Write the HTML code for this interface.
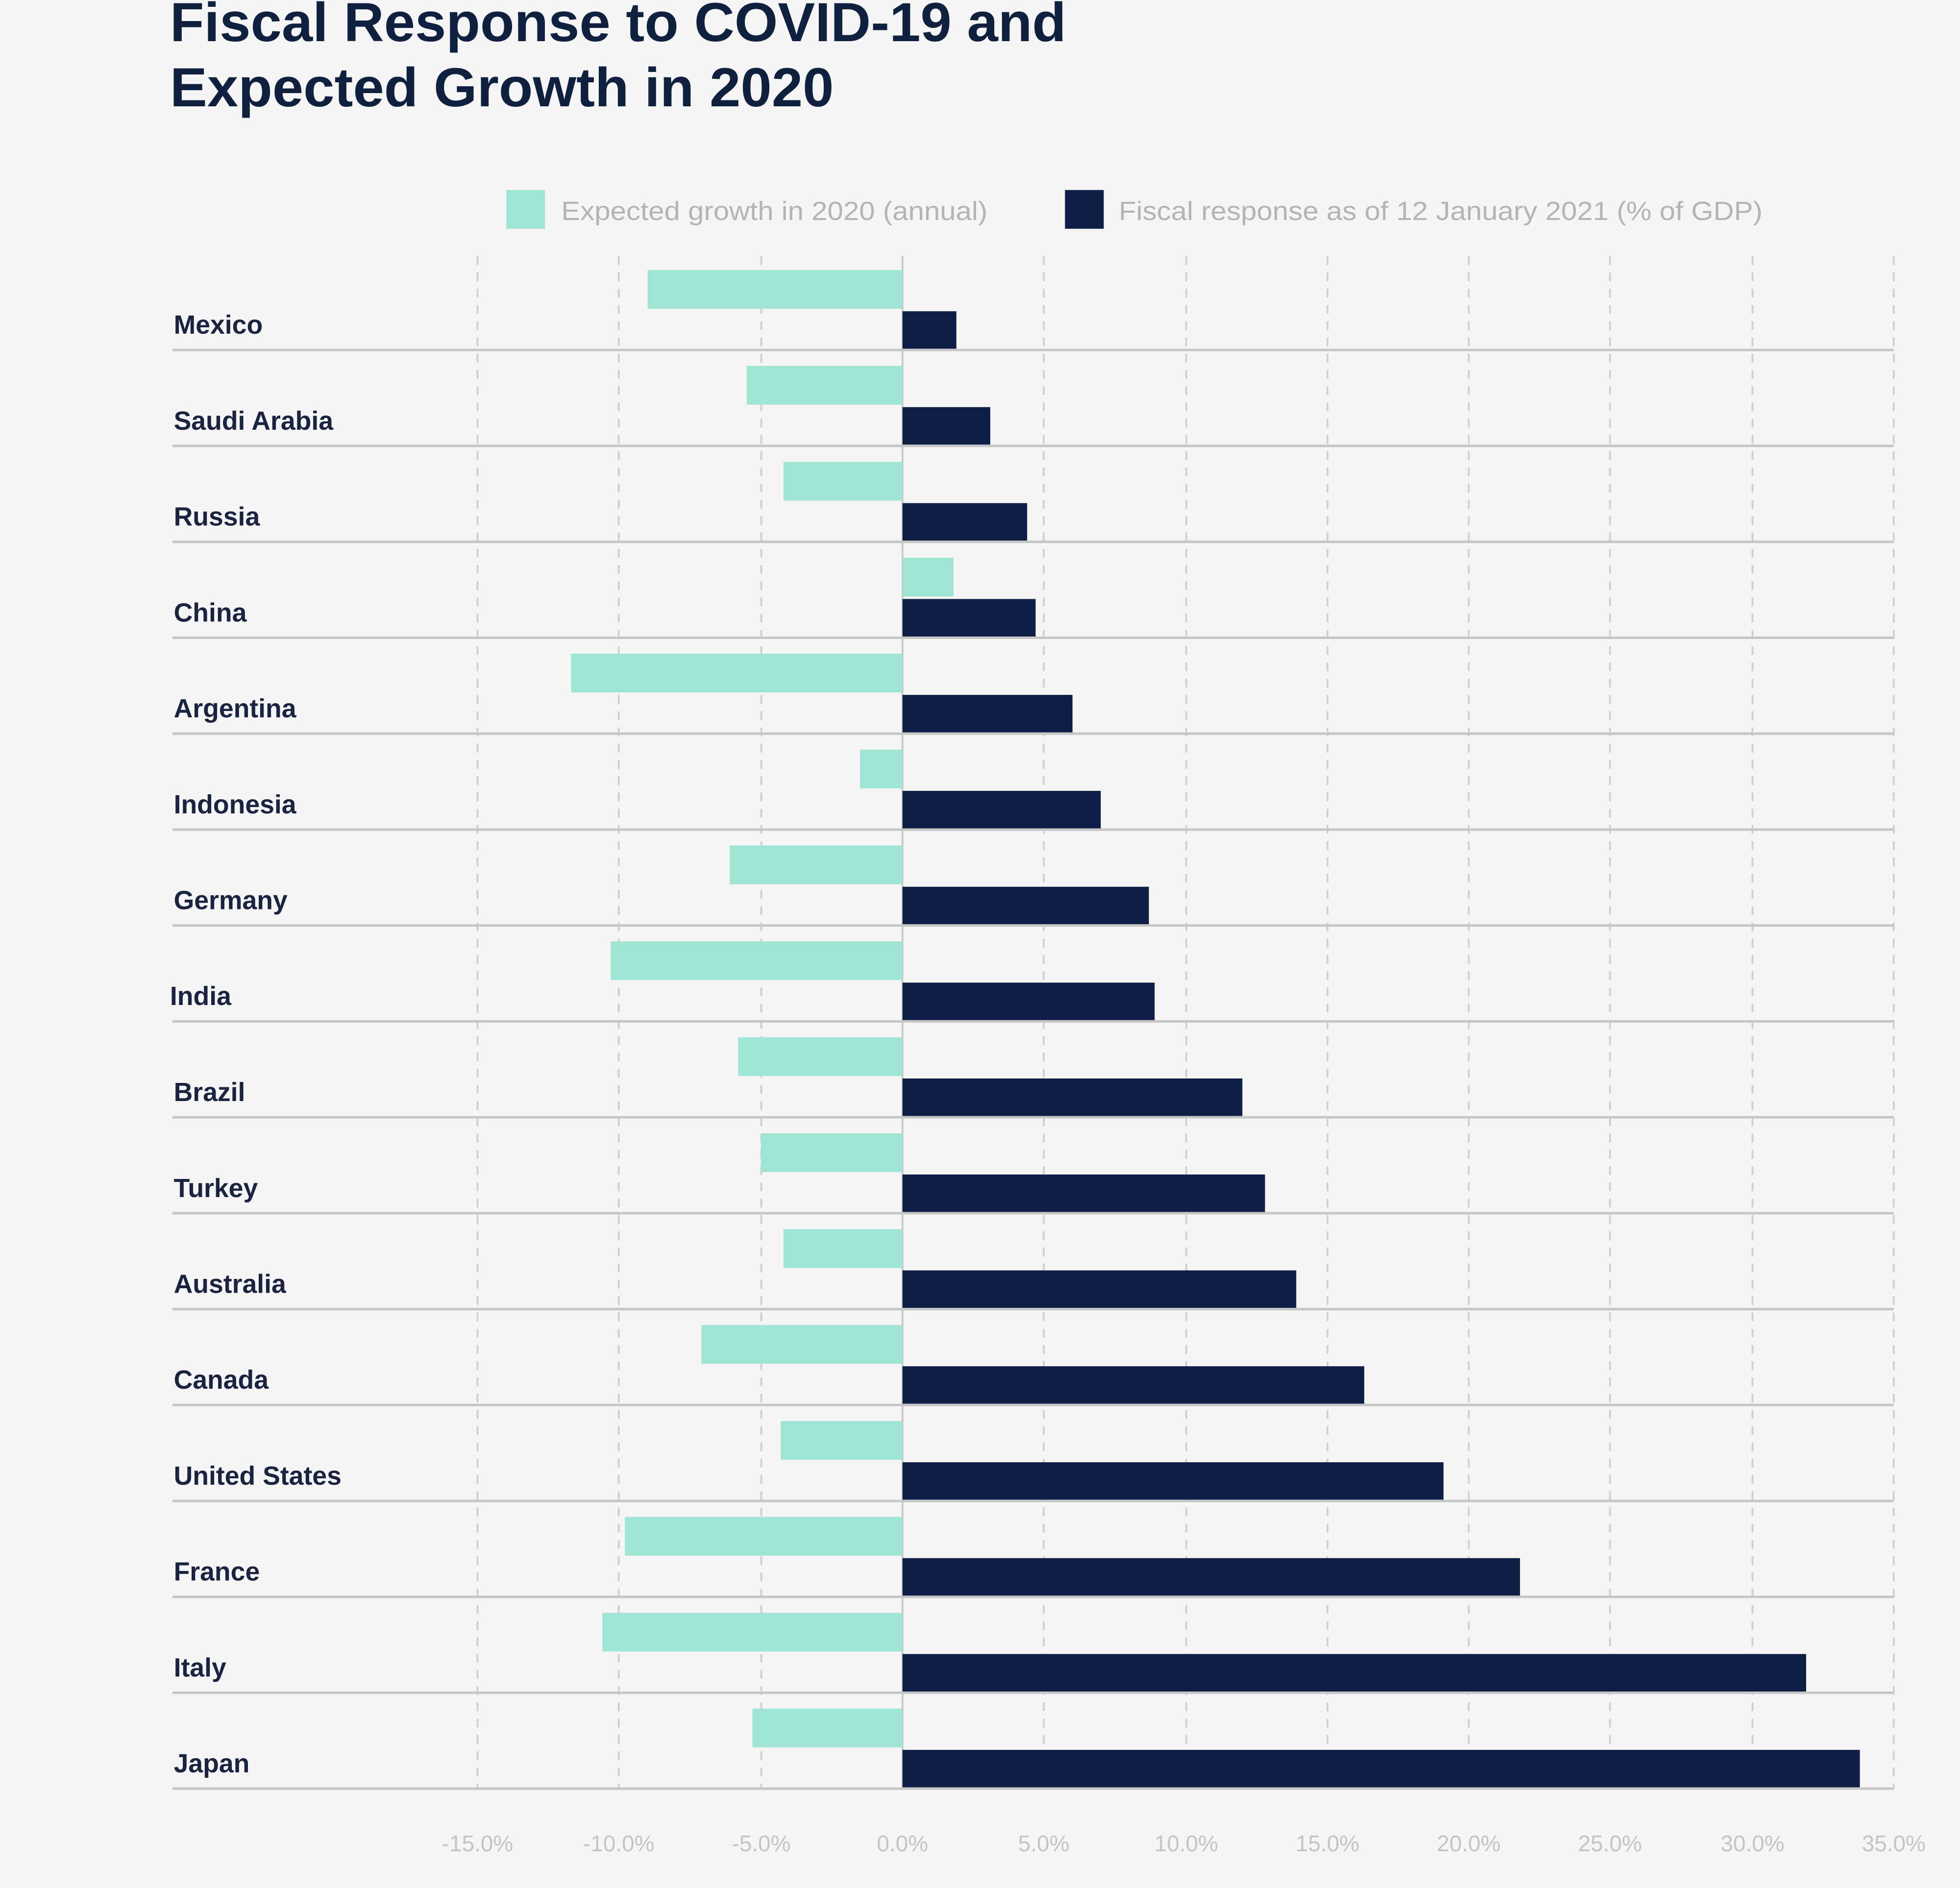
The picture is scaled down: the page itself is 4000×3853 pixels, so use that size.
<!DOCTYPE html>
<html><head><meta charset="utf-8"><style>
html,body{margin:0;padding:0;background:#f5f5f5;}
svg{display:block;}
</style></head><body>
<svg width="4000" height="3853" viewBox="0 0 1568 1510.4" preserveAspectRatio="none" xmlns="http://www.w3.org/2000/svg" font-family="Liberation Sans, sans-serif">
<rect width="1568" height="1511" fill="#f5f5f5"/>
<text x="136" y="33" font-size="44" fill="#10203f" font-weight="bold" textLength="717" lengthAdjust="spacingAndGlyphs">Fiscal Response to COVID-19 and</text>
<text x="136" y="85" font-size="44" fill="#10203f" font-weight="bold" textLength="531" lengthAdjust="spacingAndGlyphs">Expected Growth in 2020</text>
<rect x="405" y="152" width="31" height="31" fill="#a0e4d4"/>
<text x="449" y="176" font-size="21" fill="#b4b4b4" textLength="341" lengthAdjust="spacingAndGlyphs">Expected growth in 2020 (annual)</text>
<rect x="852" y="152" width="31" height="31" fill="#0d1f45"/>
<text x="895" y="176" font-size="21" fill="#b4b4b4" textLength="515" lengthAdjust="spacingAndGlyphs">Fiscal response as of 12 January 2021 (% of GDP)</text>
<g stroke="#cfcfcf" stroke-width="1.5" stroke-dasharray="7,6">
<line x1="382" y1="205" x2="382" y2="1431"/><line x1="495" y1="205" x2="495" y2="1431"/><line x1="609" y1="205" x2="609" y2="1431"/><line x1="835" y1="205" x2="835" y2="1431"/><line x1="949" y1="205" x2="949" y2="1431"/><line x1="1062" y1="205" x2="1062" y2="1431"/><line x1="1175" y1="205" x2="1175" y2="1431"/><line x1="1288" y1="205" x2="1288" y2="1431"/><line x1="1402" y1="205" x2="1402" y2="1431"/><line x1="1515" y1="205" x2="1515" y2="1431"/>
</g>
<line x1="722" y1="205" x2="722" y2="1431" stroke="#c8c8c8" stroke-width="1.5"/>
<g fill="#a0e4d4">
<rect x="518.1" y="216" width="203.9" height="31"/>
<rect x="597.4" y="292.7" width="124.6" height="31"/>
<rect x="626.8" y="369.5" width="95.2" height="31"/>
<rect x="722" y="446.2" width="40.8" height="31"/>
<rect x="456.9" y="522.9" width="265.1" height="31"/>
<rect x="688" y="599.7" width="34" height="31"/>
<rect x="583.8" y="676.4" width="138.2" height="31"/>
<rect x="488.6" y="753.1" width="233.4" height="31"/>
<rect x="590.6" y="829.8" width="131.4" height="31"/>
<rect x="608.7" y="906.6" width="113.3" height="31"/>
<rect x="626.8" y="983.3" width="95.2" height="31"/>
<rect x="561.1" y="1060" width="160.9" height="31"/>
<rect x="624.6" y="1136.8" width="97.4" height="31"/>
<rect x="499.9" y="1213.5" width="222.1" height="31"/>
<rect x="481.8" y="1290.2" width="240.2" height="31"/>
<rect x="601.9" y="1366.9" width="120.1" height="31"/>
</g>
<g fill="#0d1f45">
<rect x="722" y="249" width="43.1" height="30"/>
<rect x="722" y="325.7" width="70.2" height="30"/>
<rect x="722" y="402.5" width="99.7" height="30"/>
<rect x="722" y="479.2" width="106.5" height="30"/>
<rect x="722" y="555.9" width="136" height="30"/>
<rect x="722" y="632.7" width="158.6" height="30"/>
<rect x="722" y="709.4" width="197.1" height="30"/>
<rect x="722" y="786.1" width="201.7" height="30"/>
<rect x="722" y="862.8" width="271.9" height="30"/>
<rect x="722" y="939.6" width="290" height="30"/>
<rect x="722" y="1016.3" width="315" height="30"/>
<rect x="722" y="1093" width="369.4" height="30"/>
<rect x="722" y="1169.8" width="432.8" height="30"/>
<rect x="722" y="1246.5" width="494" height="30"/>
<rect x="722" y="1323.2" width="722.9" height="30"/>
<rect x="722" y="1399.9" width="765.9" height="30"/>
</g>
<g stroke="#c6c6c6" stroke-width="2">
<line x1="138" y1="280" x2="1515" y2="280"/><line x1="138" y1="356.7" x2="1515" y2="356.7"/><line x1="138" y1="433.5" x2="1515" y2="433.5"/><line x1="138" y1="510.2" x2="1515" y2="510.2"/><line x1="138" y1="586.9" x2="1515" y2="586.9"/><line x1="138" y1="663.7" x2="1515" y2="663.7"/><line x1="138" y1="740.4" x2="1515" y2="740.4"/><line x1="138" y1="817.1" x2="1515" y2="817.1"/><line x1="138" y1="893.8" x2="1515" y2="893.8"/><line x1="138" y1="970.6" x2="1515" y2="970.6"/><line x1="138" y1="1047.3" x2="1515" y2="1047.3"/><line x1="138" y1="1124" x2="1515" y2="1124"/><line x1="138" y1="1200.8" x2="1515" y2="1200.8"/><line x1="138" y1="1277.5" x2="1515" y2="1277.5"/><line x1="138" y1="1354.2" x2="1515" y2="1354.2"/><line x1="138" y1="1430.9" x2="1515" y2="1430.9"/>
</g>
<g font-size="21" font-weight="bold" fill="#1a2440">
<text x="139" y="267">Mexico</text>
<text x="139" y="343.7">Saudi Arabia</text>
<text x="139" y="420.5">Russia</text>
<text x="139" y="497.2">China</text>
<text x="139" y="573.9">Argentina</text>
<text x="139" y="650.7">Indonesia</text>
<text x="139" y="727.4">Germany</text>
<text x="136" y="804.1">India</text>
<text x="139" y="880.8">Brazil</text>
<text x="139" y="957.6">Turkey</text>
<text x="139" y="1034.3">Australia</text>
<text x="139" y="1111">Canada</text>
<text x="139" y="1187.8">United States</text>
<text x="139" y="1264.5">France</text>
<text x="139" y="1341.2">Italy</text>
<text x="139" y="1417.9">Japan</text>
</g>
<g font-size="18" fill="#c4c4c4" text-anchor="middle">
<text x="382" y="1481">-15.0%</text><text x="495" y="1481">-10.0%</text><text x="609" y="1481">-5.0%</text><text x="722" y="1481">0.0%</text><text x="835" y="1481">5.0%</text><text x="949" y="1481">10.0%</text><text x="1062" y="1481">15.0%</text><text x="1175" y="1481">20.0%</text><text x="1288" y="1481">25.0%</text><text x="1402" y="1481">30.0%</text><text x="1515" y="1481">35.0%</text>
</g>
</svg>
</body></html>
